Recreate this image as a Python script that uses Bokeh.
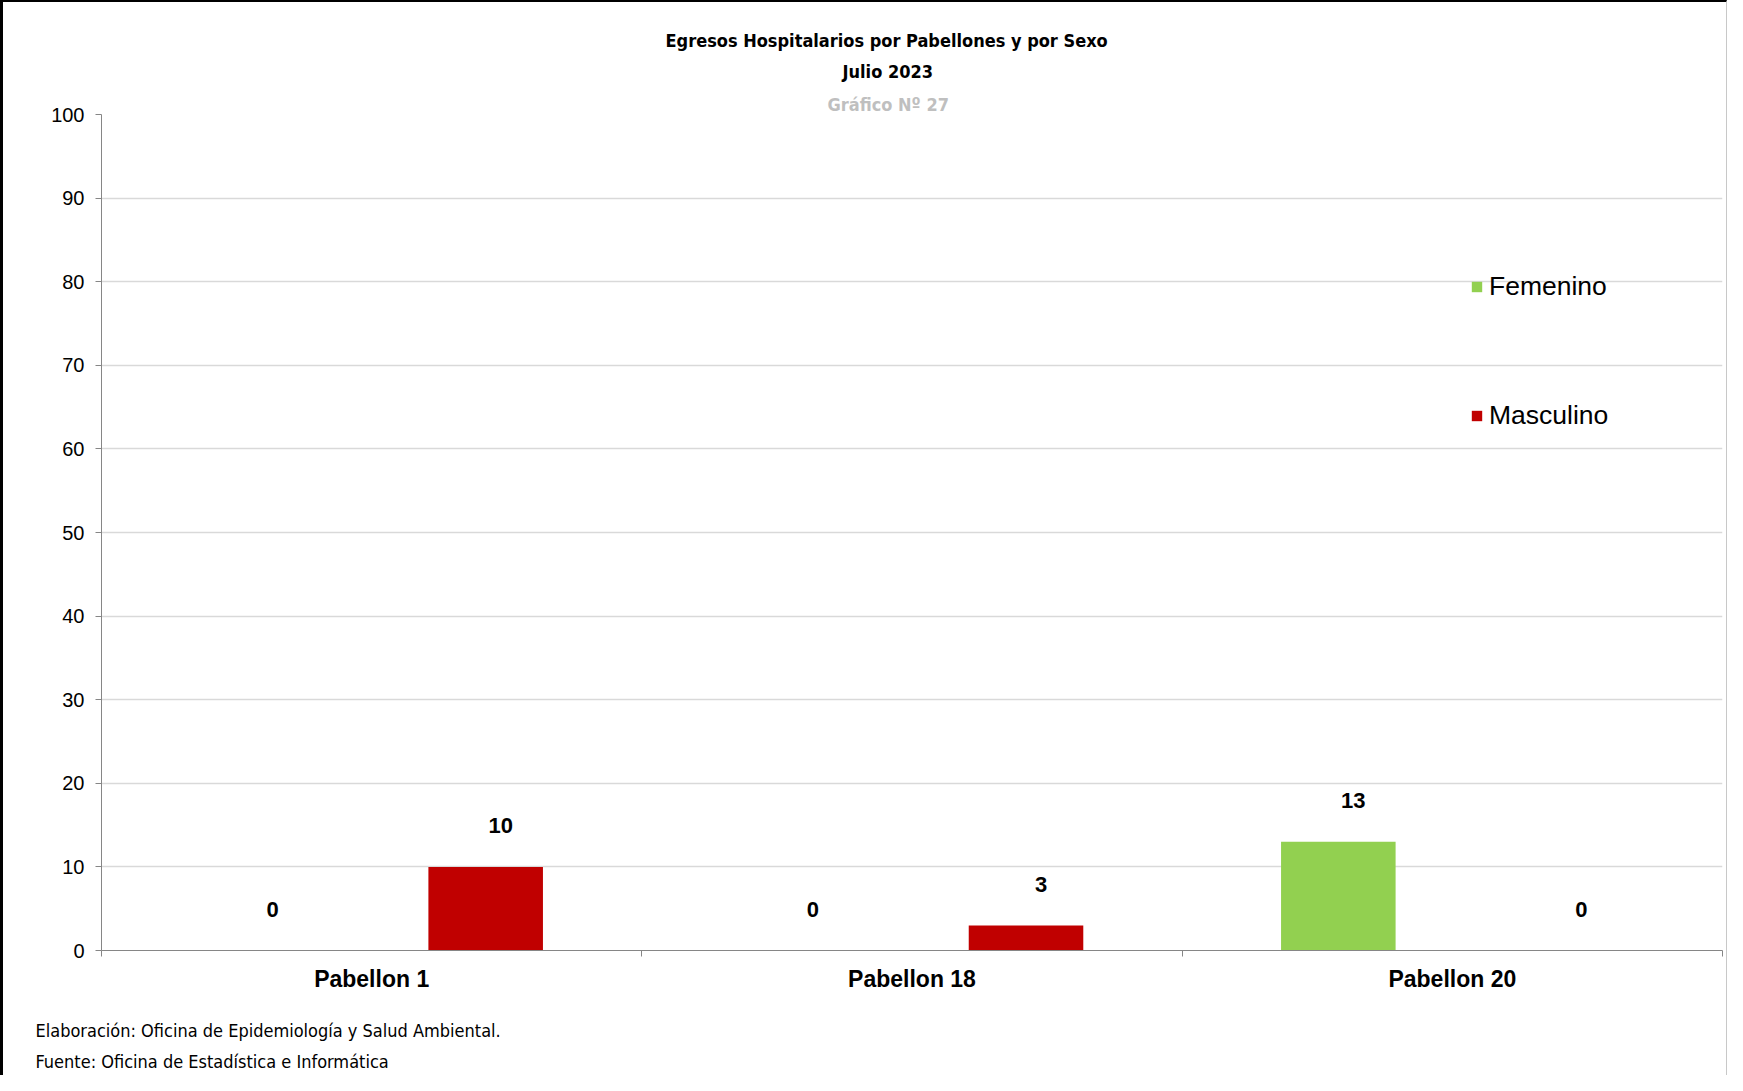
from bokeh.plotting import figure
from bokeh.models import (ColumnDataSource, Range1d, FixedTicker, Legend,
                          LegendItem, Title, LinearAxis)
from bokeh.transform import dodge
from bokeh.core.properties import value
from bokeh.embed import file_html
from bokeh.resources import INLINE

# ---- data ----
categories = ["Pabellon 1", "Pabellon 18", "Pabellon 20"]
femenino = [0, 0, 13]
masculino = [10, 3, 0]
y_ticks = [0, 10, 20, 30, 40, 50, 60, 70, 80, 90, 100]

title_lines = ["Egresos Hospitalarios por Pabellones y por Sexo", "Julio 2023", "Gráfico Nº 27"]
footer_lines = ["Elaboración: Oficina de Epidemiología y Salud Ambiental.",
                "Fuente:  Oficina de Estadística e Informática"]

GREEN = "#92D050"
RED = "#C00000"
NARROW = "'Liberation Sans Narrow', 'DejaVu Sans Condensed', sans-serif"
ARIAL = "Liberation Sans"

xs = [i + 0.5 for i in range(len(categories))]
src = ColumnDataSource(dict(
    x=xs, fem=femenino, mas=masculino,
    fem_lbl=[str(v) for v in femenino], mas_lbl=[str(v) for v in masculino],
))

W, H = 1727, 1075
p = figure(width=W, height=H, output_backend="svg", toolbar_location=None,
           title=None,
           x_range=Range1d(0, len(categories)), y_range=Range1d(0, 100),
           min_border_left=98, min_border_right=8, min_border_top=112,
           min_border_bottom=127, background_fill_color="white",
           border_fill_color="white")
p.outline_line_color = None
p.styles = {"border-left": "3px solid black", "border-top": "2px solid black",
            "border-right": "1px solid #c8c8c8"}

OFF = 0.211
BW = 0.212
r_f = p.vbar(x=dodge("x", -OFF, range=p.x_range), top="fem", width=BW, bottom=0,
             source=src, fill_color=GREEN, line_color=None)
r_m = p.vbar(x=dodge("x", OFF, range=p.x_range), top="mas", width=BW, bottom=0,
             source=src, fill_color=RED, line_color=None)

for col, lbl, off in (("fem", "fem_lbl", -OFF), ("mas", "mas_lbl", OFF)):
    p.text(x=dodge("x", off, range=p.x_range), y=col, text=lbl, source=src,
           x_offset=15, y_offset=-41, text_align="center", text_baseline="middle",
           text_font=value(ARIAL), text_font_style="bold", text_font_size="22px",
           text_color="black")

# axes
p.yaxis.ticker = FixedTicker(ticks=y_ticks)
p.yaxis.axis_line_color = "#868686"
p.yaxis.major_tick_line_color = "#868686"
p.yaxis.major_tick_out = 6
p.yaxis.major_tick_in = 0
p.yaxis.minor_tick_line_color = None
p.yaxis.major_label_text_font = ARIAL
p.yaxis.major_label_text_font_size = "20px"
p.yaxis.major_label_text_color = "black"
p.yaxis.major_label_standoff = 11

p.xaxis.ticker = FixedTicker(ticks=xs, minor_ticks=list(range(len(categories) + 1)))
p.xaxis.major_label_overrides = {x: c for x, c in zip(xs, categories)}
p.xaxis.axis_line_color = "#868686"
p.xaxis.major_tick_line_color = None
p.xaxis.minor_tick_line_color = "#868686"
p.xaxis.minor_tick_out = 6
p.xaxis.minor_tick_in = 0
p.xaxis.major_label_text_font = ARIAL
p.xaxis.major_label_text_font_style = "bold"
p.xaxis.major_label_text_font_size = "23px"
p.xaxis.major_label_text_color = "black"
p.xaxis.major_label_standoff = 9

p.xgrid.grid_line_color = None
p.ygrid.grid_line_color = "#D9D9D9"
p.ygrid.grid_line_width = 1.5

# invisible spacer between the category labels and the footer
spacer = LinearAxis(ticker=FixedTicker(ticks=[xs[0]]), axis_line_color=None,
                    major_tick_line_color=None, minor_tick_line_color=None,
                    major_tick_out=16, major_tick_in=0, minor_tick_out=0,
                    minor_tick_in=0, major_label_standoff=0,
                    major_label_overrides={xs[0]: ""},
                    major_label_text_font_size="1px")
p.add_layout(spacer, "below")

# legend
legend = Legend(items=[LegendItem(label="Femenino", renderers=[r_f]),
                       LegendItem(label="Masculino", renderers=[r_m])],
                location=(1369, 519), orientation="vertical",
                glyph_width=13, glyph_height=13, label_height=30,
                label_standoff=6, spacing=98, padding=0, margin=0,
                border_line_color=None, background_fill_alpha=0,
                label_text_font=ARIAL, label_text_font_size="26.5px",
                label_text_color="black")
p.add_layout(legend, "center")

# titles (added from the frame outward); left offsets place each line centred near x=886
title_col = ["black", "black", "#BFBFBF"]
title_off = [564, 741, 726]
title_standoff = [-4, 20, 0]
for t, c, off, so in reversed(list(zip(title_lines, title_col, title_off, title_standoff))):
    p.add_layout(Title(text=t, align="left", offset=off, standoff=so,
                       text_font=NARROW, text_font_style="bold",
                       text_font_size="18px", text_color=c), "above")

# footer
for t, so in zip(footer_lines, [15, 0]):
    p.add_layout(Title(text=t, align="left", offset=-66, standoff=so,
                       text_font=NARROW, text_font_style="normal",
                       text_font_size="18px", text_color="black"), "below")

open("out.html", "w").write(file_html(p, INLINE))
